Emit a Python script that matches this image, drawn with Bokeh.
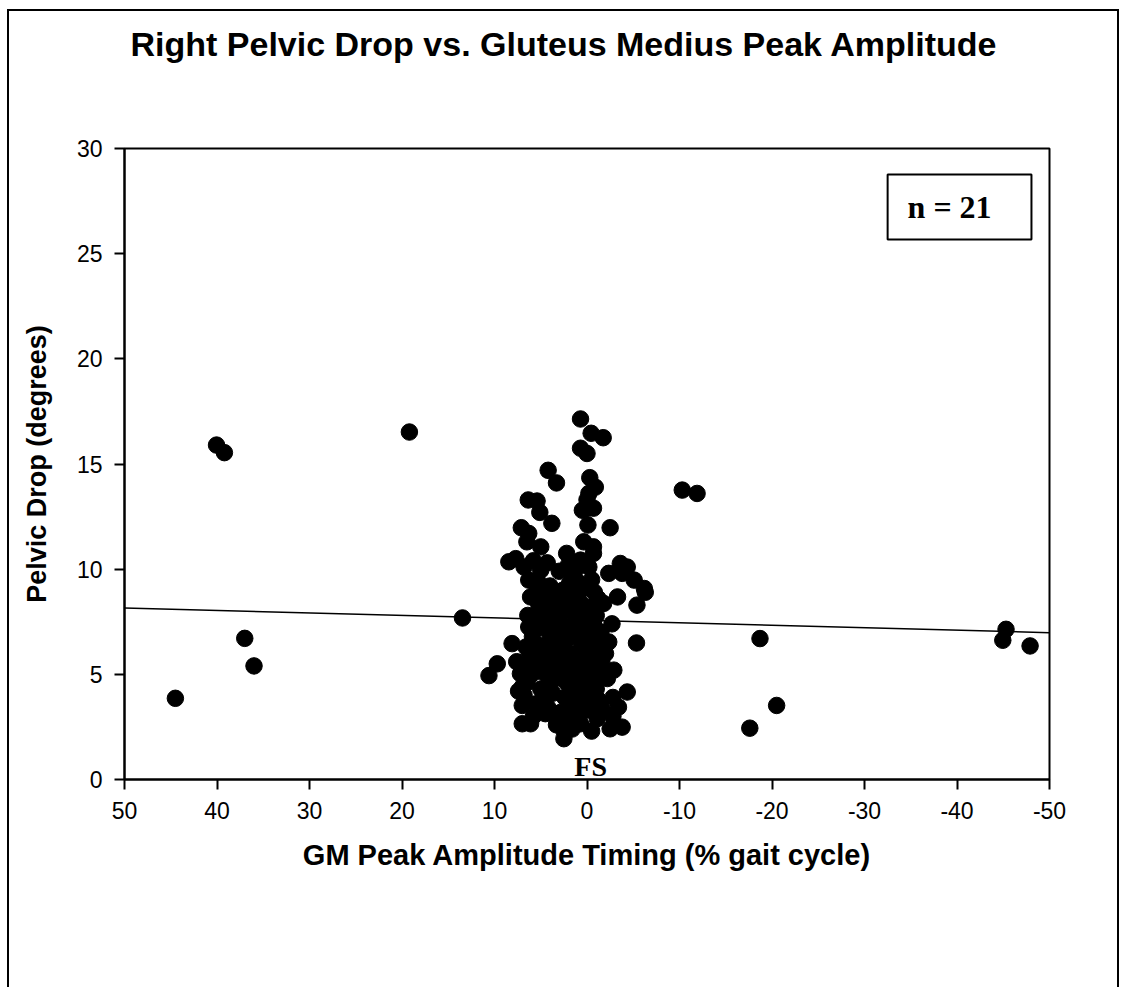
from bokeh.plotting import figure
from bokeh.models import Range1d, FixedTicker, Label, BoxAnnotation, Title
from bokeh.embed import file_html
from bokeh.resources import INLINE

title_text = "Right Pelvic Drop vs. Gluteus Medius Peak Amplitude"
x_title = "GM Peak Amplitude Timing (% gait cycle)"
y_title = "Pelvic Drop (degrees)"

x_ticks = [50, 40, 30, 20, 10, 0, -10, -20, -30, -40, -50]
x_tick_labels = ["50", "40", "30", "20", "10", "0", "-10", "-20", "-30", "-40", "-50"]
y_ticks = [0, 5, 10, 15, 20, 25, 30]
y_tick_labels = ["0", "5", "10", "15", "20", "25", "30"]

# GM peak amplitude timing (% gait cycle) and pelvic drop (degrees)
gm_timing = [
    # outliers
    44.5, 40.05, 39.2, 19.2, 37.0, 36.0, 13.46, 10.6, 9.7, -10.3, -11.9, -18.7, -20.5, -17.6, -45.3, -44.95, -47.9,
    # upper cluster
    0.7, -0.45, -1.75, 0.7, 0.0, 4.2, 3.3, -0.3, -0.9, -0.2, 6.35, 5.4, 0.0, 5.1, -0.1, 0.5, -0.7, 3.8, 7.1, -2.5,
    -0.1, 6.3, 6.5, 5.0, 0.35, -0.7, 2.2, 8.45, 7.7, 6.3, 4.3, 5.0, -3.6, -4.35, -5.1, -6.2, 0.7, -0.7, 1.6, -2.35, -3.8,
    # lower cluster edges
    -3.3, -5.4, -6.3, 6.1, 5.0, 6.3, 8.1, 7.2, 7.0, 7.0, 7.0, 6.1, 4.5, 5.75, 2.5, 2.5, 2.0, 0.7, -1.1, -2.5, -3.8,
    -3.4, -4.35, -2.2, -2.0, -2.35, -5.35, -1.8,
    # dense core
    6.8, 6.5, 6.7, 6.2, 5.9, 5.6, 5.2, 5.5, 5.0, 4.8, 5.1, 4.6, 4.3, 4.0, 3.8, 4.2, 3.7, 3.4, 3.9, 3.2, 3.5, 2.9, 3.1,
    2.6, 2.8, 2.4, 2.2, 2.5, 1.9, 2.1, 1.6, 1.8, 1.4, 1.9, 1.3, 1.0, 0.8, 1.2, 0.6, 0.9, 0.4, 0.7, 0.2, 0.0, -0.3,
    -0.5, -0.1, -0.6, -0.2, -0.7, -0.4, -0.8, -1.2, -1.4, -1.1, -1.5, -1.0, 3.0, 1.2, -0.2, 4.0, 5.8, 6.8, 2.3,
    -1.3, -2.8, -0.5, 1.5, 3.3, 7.4, 7.6, 5.3, -1.6, -2.9, -2.7,
    5.8, 4.9, 4.4, 4.0, 4.4, 3.9, 4.8, 3.4, 2.3, 2.7, 2.9, 1.7, 1.5, 1.8, 0.4, 0.1, 0.3, -0.4, 0.2, 1.1, 2.4,
    3.4, 4.5, 5.4, 1.0, -0.5, 2.0, -1.0, -0.8, -1.3, -0.9, -1.2, 1.0, -0.5, 3.2, 1.6, -1.7, -2.8, 6.6, 6.0,
    6.4, 5.6,
]
pelvic_drop = [
    # outliers
    3.86, 15.9, 15.54, 16.52, 6.71, 5.40, 7.68, 4.94, 5.5, 13.76, 13.6, 6.7, 3.52, 2.44, 7.14, 6.62, 6.35,
    # upper cluster
    17.14, 16.46, 16.25, 15.75, 15.5, 14.7, 14.1, 14.35, 13.9, 13.6, 13.29, 13.24, 13.3, 12.7, 12.9, 12.8, 12.9,
    12.18, 11.97, 11.97, 12.1, 11.7, 11.3, 11.06, 11.3, 11.06, 10.75, 10.35, 10.5, 9.48, 10.3, 9.95, 10.27, 10.1,
    9.48, 9.08, 10.43, 10.75, 9.63, 9.8, 9.8,
    # lower cluster edges
    8.68, 8.29, 8.9, 8.68, 7.9, 7.25, 6.46, 5.03, 4.4, 3.52, 2.65, 2.65, 3.13, 5.67, 1.94, 2.33, 3.05, 2.65, 2.89,
    2.41, 2.49, 3.44, 4.16, 4.8, 5.99, 6.54, 6.49, 8.37,
    # dense core
    4.0, 4.6, 5.3, 6.0, 6.8, 7.5, 8.3, 3.6, 4.3, 5.1, 5.8, 6.4, 7.1, 7.9, 8.7, 3.4, 4.1, 4.8, 5.5, 6.1, 6.8, 7.5, 8.2,
    9.0, 3.2, 3.9, 4.6, 5.3, 6.0, 6.7, 7.3, 8.0, 8.7, 9.3, 3.6, 4.3, 5.0, 5.7, 6.4, 7.0, 7.7, 8.4, 9.1, 3.3, 4.0,
    4.7, 5.4, 6.1, 6.8, 7.5, 8.2, 8.9, 3.8, 5.0, 6.3, 7.0, 7.8, 9.9, 10.0, 10.1, 9.2, 10.4, 10.1, 2.8,
    3.3, 3.9, 2.3, 2.9, 2.6, 4.2, 5.6, 9.4, 5.6, 5.2, 7.4,
    3.0, 3.7, 4.4, 5.2, 5.9, 6.5, 7.3, 7.2, 7.0, 6.3, 5.6, 5.2, 4.5, 3.8, 4.0, 4.6, 5.8, 6.4, 7.2, 7.9, 8.4,
    8.9, 8.6, 9.0, 9.4, 9.5, 10.2, 4.3, 5.6, 6.7, 7.2, 8.6, 3.1, 3.4, 2.7, 2.4, 3.3, 3.0, 6.3, 5.0,
    7.8, 6.1,
]
trend_x = [50, -50]
trend_y = [8.15, 6.98]

FONT = "Liberation Sans"
SERIF = "Liberation Serif"

p = figure(
    width=1112, height=978,
    x_range=Range1d(50, -50), y_range=Range1d(0, 30),
    output_backend="svg", toolbar_location=None,
    min_border_left=115, min_border_right=72, min_border_top=137, min_border_bottom=210,
)
p.styles = {"margin-left": "7px", "margin-top": "9px",
            "border-left": "2px solid black", "border-top": "2px solid black",
            "border-right": "2px solid black"}
p.grid.visible = False
p.outline_line_color = "black"
p.outline_line_width = 2

# spacer between the frame and the main title (stacked next to the frame)
p.add_layout(Title(text=" ", text_font_size="10px", standoff=58), "above")

p.title.text = title_text
p.title.align = "left"
p.title.vertical_align = "top"
p.title.offset = 6
p.title.standoff = 26
p.title.text_font = FONT
p.title.text_font_style = "bold"
p.title.text_font_size = "34px"
p.title.text_color = "black"

p.xaxis.ticker = FixedTicker(ticks=x_ticks)
p.xaxis.major_label_overrides = dict(zip(x_ticks, x_tick_labels))
p.yaxis.ticker = FixedTicker(ticks=y_ticks)
p.yaxis.major_label_overrides = dict(zip(y_ticks, y_tick_labels))

for ax in (p.xaxis[0], p.yaxis[0]):
    ax.axis_line_width = 2
    ax.major_tick_line_width = 2
    ax.major_tick_out = 10
    ax.major_tick_in = 0
    ax.minor_tick_out = 0
    ax.minor_tick_in = 0
    ax.major_label_text_font = FONT
    ax.major_label_text_font_size = "23px"
    ax.major_label_text_color = "black"
    ax.axis_label_text_font = FONT
    ax.axis_label_text_font_style = "bold"
    ax.axis_label_text_color = "black"

p.xaxis.axis_label = x_title
p.yaxis.axis_label = y_title
p.xaxis.axis_label_text_font_size = "29px"
p.yaxis.axis_label_text_font_size = "27px"
p.xaxis.major_label_standoff = 12
p.yaxis.major_label_standoff = 12
p.xaxis.axis_label_standoff = 17
p.yaxis.axis_label_standoff = 22

p.line(trend_x, trend_y, line_color="black", line_width=1.5)
p.scatter(gm_timing, pelvic_drop, size=16.5, fill_color="black", line_color="black")

p.add_layout(BoxAnnotation(left=-32.5, right=-48.05, bottom=25.67, top=28.76,
                           fill_alpha=0, line_color="black", line_alpha=1, line_width=2))
p.add_layout(Label(x=-39.2, y=27.2, text="n = 21", text_align="center", text_baseline="middle",
                   text_font=SERIF, text_font_style="bold",
                   text_font_size="32px", text_color="black"))
p.add_layout(Label(x=-0.4, y=0.64, text="FS", text_align="center", text_baseline="middle",
                   text_font=SERIF, text_font_style="bold",
                   text_font_size="28px", text_color="black"))

open("out.html", "w").write(file_html(p, INLINE))
